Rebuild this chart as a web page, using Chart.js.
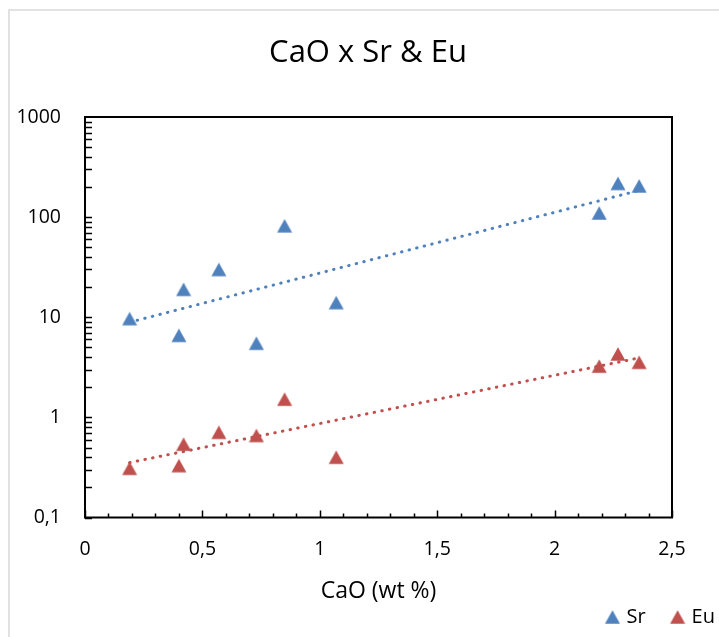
<!DOCTYPE html>
<html>
<head>
<meta charset="utf-8">
<script src="https://cdn.jsdelivr.net/npm/chart.js@4/dist/chart.umd.min.js"></script>
<style>
  html, body { margin: 0; padding: 0; background: #fff; }
  #wrap { width: 719px; height: 637px; position: relative; }
</style>
</head>
<body>
<div id="wrap"><canvas id="c"></canvas></div>
<script>
// ---- data ----
const caoWt = [0.19, 0.40, 0.42, 0.57, 0.73, 0.85, 1.07, 2.19, 2.27, 2.36];
const srValues = [9.7, 6.6, 19, 30, 5.5, 82, 14, 110, 217, 205];
const euValues = [0.31, 0.33, 0.54, 0.71, 0.66, 1.52, 0.40, 3.25, 4.3, 3.55];
const seriesNames = ['Sr', 'Eu'];
const xTickValues = [0, 0.5, 1, 1.5, 2, 2.5];
const yTickValues = [0.1, 1, 10, 100, 1000];
const chartTitle = 'CaO x Sr & Eu';
const xTitle = 'CaO (wt %)';

const BLUE = '#4F81BD';
const RED = '#C0504D';
const FONT = "'Open Sans', 'DejaVu Sans', sans-serif";

function fmt(v) { return String(v).replace('.', ','); }

// triangle marker image (centered in its box, like Excel markers)
function triangle(color, w, h, cx) {
  const c = document.createElement('canvas');
  c.width = w; c.height = h;
  const g = c.getContext('2d');
  const tw = 15, th = 13.5, cy = h / 2;
  g.fillStyle = color;
  g.beginPath();
  g.moveTo(cx, cy - th / 2);
  g.lineTo(cx + tw / 2, cy + th / 2);
  g.lineTo(cx - tw / 2, cy + th / 2);
  g.closePath();
  g.fill();
  return c;
}
const markers = [triangle(BLUE, 16, 16, 8), triangle(RED, 16, 16, 8)];
const legendMarkers = [triangle(BLUE, 40, 16, 32), triangle(RED, 40, 16, 32)];

// exponential trendline (least squares on log10 y), spanning the data x range
function expTrend(xs, ys) {
  const n = xs.length;
  const ly = ys.map(v => Math.log10(v));
  const mx = xs.reduce((a, b) => a + b, 0) / n;
  const my = ly.reduce((a, b) => a + b, 0) / n;
  let sxy = 0, sxx = 0;
  for (let i = 0; i < n; i++) { sxy += (xs[i] - mx) * (ly[i] - my); sxx += (xs[i] - mx) ** 2; }
  const b = sxy / sxx, a = my - b * mx;
  const x0 = Math.min(...xs), x1 = Math.max(...xs);
  return [x0, x1].map(x => ({ x, y: Math.pow(10, a + b * x) }));
}

const pts = ys => caoWt.map((x, i) => ({ x, y: ys[i] }));

const boxPlugin = {
  id: 'boxTicks',
  beforeDraw(chart) {
    const ctx = chart.ctx;
    ctx.save();
    ctx.strokeStyle = '#d9d9d9';
    ctx.lineWidth = 1.5;
    ctx.strokeRect(9, 10, 900, 900);
    ctx.restore();
  },
  beforeDatasetsDraw(chart) {
    const { ctx, chartArea: a, scales } = chart;
    const xs = scales.x, ys = scales.y;
    ctx.save();
    ctx.strokeStyle = '#000';
    ctx.lineWidth = 1.5;
    ctx.beginPath();
    // y minor/major ticks, inward
    for (let d = 0; d < yTickValues.length - 1; d++) {
      for (let k = 1; k <= 9; k++) {
        const py = Math.round(ys.getPixelForValue(yTickValues[d] * k)) + 0.5;
        ctx.moveTo(a.left, py); ctx.lineTo(a.left + 7, py);
      }
    }
    // x ticks every 0.1, major every 0.5, inward
    for (let i = 0; i <= 25; i++) {
      const px = Math.round(xs.getPixelForValue(i / 10)) + 0.5;
      const len = (i % 5 === 0) ? 7 : 4;
      ctx.moveTo(px, a.bottom); ctx.lineTo(px, a.bottom - len);
    }
    ctx.stroke();
    ctx.lineWidth = 2;
    ctx.strokeRect(a.left, a.top, a.right - a.left, a.bottom - a.top);
    ctx.restore();
  }
};

new Chart(document.getElementById('c'), {
  type: 'scatter',
  data: {
    datasets: [
      { label: seriesNames[0], data: pts(srValues), pointStyle: markers[0], pointRadius: 8,
        backgroundColor: BLUE, borderColor: BLUE, order: 1 },
      { label: seriesNames[1], data: pts(euValues), pointStyle: markers[1], pointRadius: 8,
        backgroundColor: RED, borderColor: RED, order: 1 },
      { label: 'trend-Sr', data: expTrend(caoWt, srValues), showLine: true, pointRadius: 0,
        borderColor: BLUE, borderWidth: 3, borderDash: [0.5, 7.3], borderCapStyle: 'round', order: 0 },
      { label: 'trend-Eu', data: expTrend(caoWt, euValues), showLine: true, pointRadius: 0,
        borderColor: RED, borderWidth: 3, borderDash: [0.5, 7.3], borderCapStyle: 'round', order: 0 }
    ]
  },
  options: {
    responsive: true,
    maintainAspectRatio: false,
    animation: false,
    events: [],
    layout: { padding: { left: 17, right: 0, top: 0, bottom: 0 } },
    plugins: {
      tooltip: { enabled: false },
      title: {
        display: true, text: chartTitle, color: '#000',
        font: { family: FONT, size: 31, weight: 'normal', lineHeight: 1.2 },
        padding: { top: 35, bottom: 44.8 }
      },
      legend: {
        display: true, position: 'bottom', align: 'end',
        labels: {
          usePointStyle: true, pointStyleWidth: 32, padding: 4, color: '#000',
          font: { family: FONT, size: 20 },
          filter: item => seriesNames.includes(item.text),
          generateLabels: chart => {
            const items = Chart.defaults.plugins.legend.labels.generateLabels(chart);
            items.forEach(it => {
              const idx = seriesNames.indexOf(it.text);
              if (idx >= 0) it.pointStyle = legendMarkers[idx];
            });
            return items;
          }
        }
      }
    },
    scales: {
      x: {
        type: 'linear', min: 0, max: 2.5,
        grid: { display: false, drawTicks: false },
        border: { display: false },
        afterBuildTicks: s => { s.ticks = xTickValues.map(v => ({ value: v })); },
        ticks: { color: '#000', padding: 20, maxRotation: 0, font: { family: FONT, size: 19.5 },
                 callback: v => fmt(v) },
        title: { display: true, text: xTitle, color: '#000', padding: { top: 0, bottom: 0 },
                 font: { family: FONT, size: 23, lineHeight: 1 } },
        afterFit: s => { s.height = 85.5; }
      },
      y: {
        type: 'logarithmic', min: 0.1, max: 1000, position: 'left',
        grid: { display: false, drawTicks: false },
        border: { display: false },
        afterBuildTicks: s => { s.ticks = yTickValues.map(v => ({ value: v })); },
        ticks: { color: '#000', padding: 24, font: { family: FONT, size: 19.5 },
                 callback: v => fmt(v) },
        afterFit: s => { s.width = 68; }
      },
      rightPad: {
        type: 'linear', position: 'right', display: true,
        grid: { display: false, drawTicks: false },
        border: { display: false },
        ticks: { display: false },
        afterFit: s => { s.width = 47; }
      }
    }
  },
  plugins: [boxPlugin]
});
</script>
</body>
</html>
